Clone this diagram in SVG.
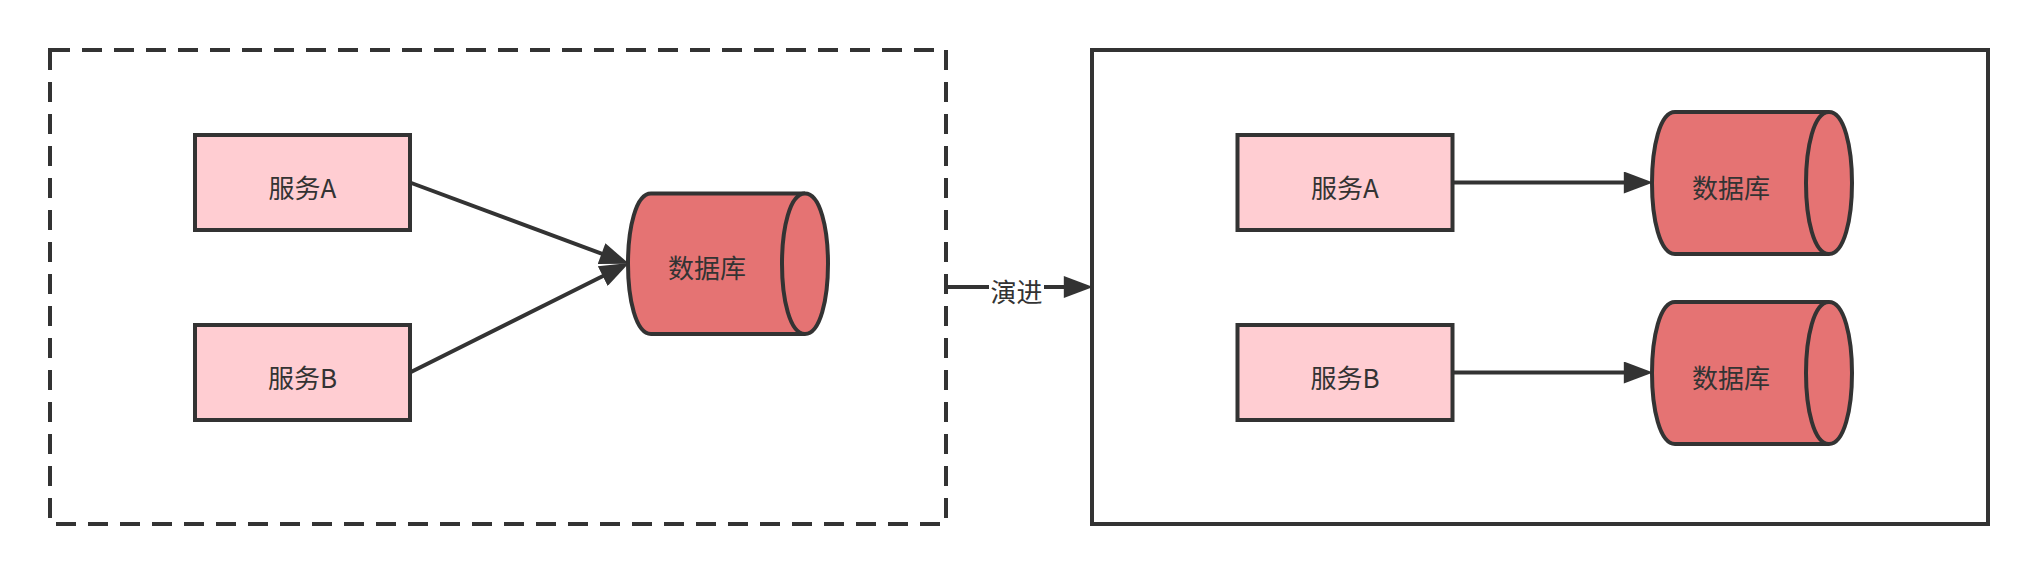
<svg xmlns="http://www.w3.org/2000/svg" width="2038" height="574" viewBox="0 0 2038 574">
<style>
.box{fill:#FFCDD2;stroke:#333333;stroke-width:4}
.db{fill:#E57373;stroke:#333333;stroke-width:4}
.frame{fill:#FFFFFF;stroke:#333333;stroke-width:4}
.edge{fill:none;stroke:#333333;stroke-width:4}
text{font-family:"Noto Sans CJK SC","Noto Sans",sans-serif;font-size:26px;fill:#333333;text-anchor:middle}
</style>
<defs>
<marker id="arrow" markerUnits="userSpaceOnUse" markerWidth="30" markerHeight="22" viewBox="0 0 28 21" refX="4" refY="10.5" orient="auto">
<path d="M0,0 L28,10.5 L0,21 Z" fill="#333333"/>
</marker>
</defs>
<rect width="2038" height="574" fill="#FFFFFF"/>
<g id="before-container">
<rect x="50" y="50" width="896" height="474" class="frame" stroke-dasharray="20 12"/>
</g>
<g id="after-container">
<rect x="1092" y="50" width="896" height="474" class="frame"/>
</g>
<g id="left-service-a">
<rect x="195" y="135" width="215" height="95" class="box"/>
<text x="302.5" y="197.5">服务A</text>
</g>
<g id="left-service-b">
<rect x="195" y="325" width="215" height="95" class="box"/>
<text x="302.5" y="387.5">服务B</text>
</g>
<g id="left-db">
<path class="db" d="M651,193.5 L805,193.5 C835.67,193.5 835.67,334 805,334 L651,334 C620.33,334 620.33,193.5 651,193.5 Z"/>
<path class="db" d="M805,193.5 C774.33,193.5 774.33,334 805,334"/>
<text x="707" y="278">数据库</text>
</g>
<g id="right-service-a">
<rect x="1237.5" y="135" width="215" height="95" class="box"/>
<text x="1345" y="197.5">服务A</text>
</g>
<g id="right-service-b">
<rect x="1237.5" y="325" width="215" height="95" class="box"/>
<text x="1345" y="387.5">服务B</text>
</g>
<g id="right-db-a">
<path class="db" d="M1675,112 L1829,112 C1859.67,112 1859.67,254 1829,254 L1675,254 C1644.33,254 1644.33,112 1675,112 Z"/>
<path class="db" d="M1829,112 C1798.33,112 1798.33,254 1829,254"/>
<text x="1731" y="197.5">数据库</text>
</g>
<g id="right-db-b">
<path class="db" d="M1675,302 L1829,302 C1859.67,302 1859.67,444 1829,444 L1675,444 C1644.33,444 1644.33,302 1675,302 Z"/>
<path class="db" d="M1829,302 C1798.33,302 1798.33,444 1829,444"/>
<text x="1731" y="387.5">数据库</text>
</g>
<g id="connectors">
<path class="edge" d="M410,182.5 L605.5,255.1" marker-end="url(#arrow)"/>
<path class="edge" d="M410,372.5 L606.5,274.2" marker-end="url(#arrow)"/>
<path class="edge" d="M1452,182.5 L1628,182.5" marker-end="url(#arrow)"/>
<path class="edge" d="M1452,372.5 L1628,372.5" marker-end="url(#arrow)"/>
<path class="edge" d="M946,287 L1068,287" marker-end="url(#arrow)"/>
<rect x="989" y="274" width="55" height="30" fill="#FFFFFF"/>
<text x="1016.5" y="301.5">演进</text>
</g>
</svg>
